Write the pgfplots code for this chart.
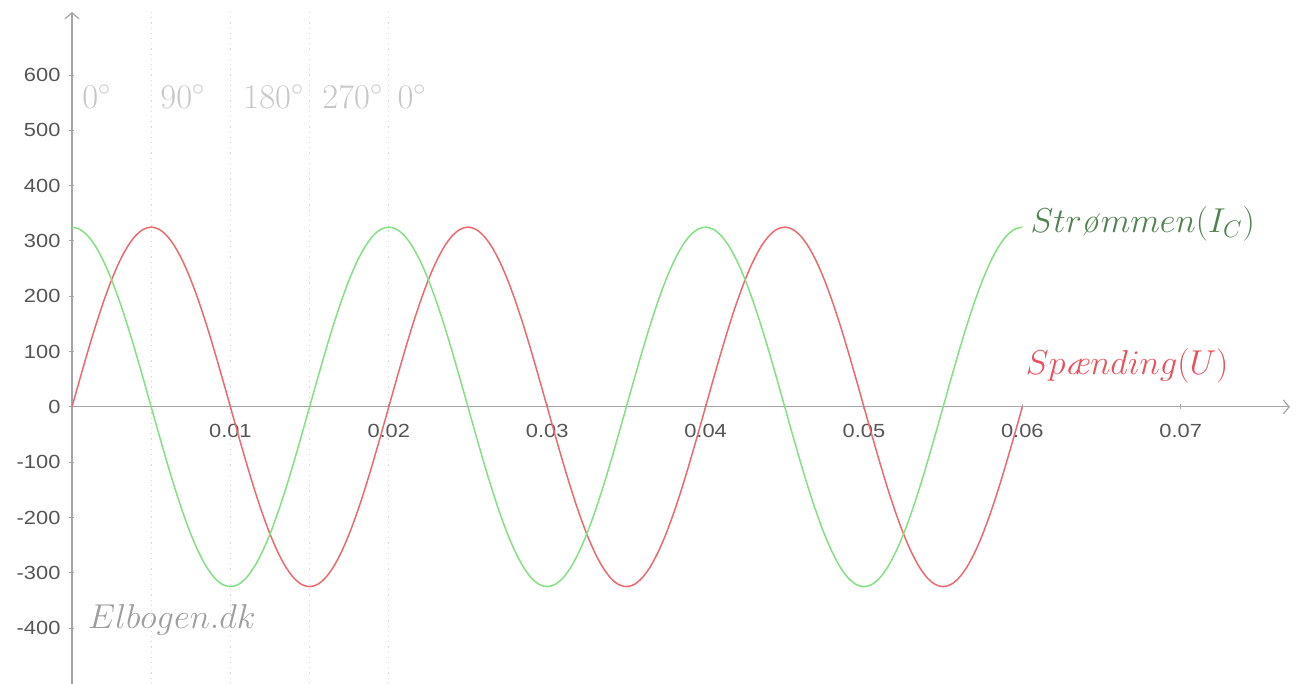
\documentclass[border=0pt]{standalone}
\usepackage{fontspec}
\usepackage{pgfplots}
\usepackage{pgfplotstable}
\pgfplotsset{compat=1.18}
\usetikzlibrary{arrows.meta}
\newfontfamily\tickfont[FakeStretch=1.15]{Liberation Sans}
\definecolor{uline}{RGB}{238,105,110}
\definecolor{iline}{RGB}{130,225,130}
\definecolor{ilabel}{RGB}{80,130,80}
\definecolor{ulabel}{RGB}{232,80,90}
\definecolor{axgray}{RGB}{165,165,165}
\definecolor{tickgray}{RGB}{85,85,85}
\definecolor{guide}{RGB}{215,215,215}

% t in s, U = voltage, I = current (cos), 9 degree steps
\pgfplotstableread{
t U I
0.0000 0 325.0
0.0005 50.8 321.0
0.0010 100.4 309.1
0.0015 147.6 289.6
0.0020 191.0 262.9
0.0025 229.8 229.8
0.0030 262.9 191.0
0.0035 289.6 147.6
0.0040 309.1 100.4
0.0045 321.0 50.8
0.0050 325.0 0
0.0055 321.0 -50.8
0.0060 309.1 -100.4
0.0065 289.6 -147.6
0.0070 262.9 -191.0
0.0075 229.8 -229.8
0.0080 191.0 -262.9
0.0085 147.6 -289.6
0.0090 100.4 -309.1
0.0095 50.8 -321.0
0.0100 0 -325.0
0.0105 -50.8 -321.0
0.0110 -100.4 -309.1
0.0115 -147.6 -289.6
0.0120 -191.0 -262.9
0.0125 -229.8 -229.8
0.0130 -262.9 -191.0
0.0135 -289.6 -147.6
0.0140 -309.1 -100.4
0.0145 -321.0 -50.8
0.0150 -325.0 0
0.0155 -321.0 50.8
0.0160 -309.1 100.4
0.0165 -289.6 147.6
0.0170 -262.9 191.0
0.0175 -229.8 229.8
0.0180 -191.0 262.9
0.0185 -147.6 289.6
0.0190 -100.4 309.1
0.0195 -50.8 321.0
0.0200 0 325.0
0.0205 50.8 321.0
0.0210 100.4 309.1
0.0215 147.6 289.6
0.0220 191.0 262.9
0.0225 229.8 229.8
0.0230 262.9 191.0
0.0235 289.6 147.6
0.0240 309.1 100.4
0.0245 321.0 50.8
0.0250 325.0 0
0.0255 321.0 -50.8
0.0260 309.1 -100.4
0.0265 289.6 -147.6
0.0270 262.9 -191.0
0.0275 229.8 -229.8
0.0280 191.0 -262.9
0.0285 147.6 -289.6
0.0290 100.4 -309.1
0.0295 50.8 -321.0
0.0300 0 -325.0
0.0305 -50.8 -321.0
0.0310 -100.4 -309.1
0.0315 -147.6 -289.6
0.0320 -191.0 -262.9
0.0325 -229.8 -229.8
0.0330 -262.9 -191.0
0.0335 -289.6 -147.6
0.0340 -309.1 -100.4
0.0345 -321.0 -50.8
0.0350 -325.0 0
0.0355 -321.0 50.8
0.0360 -309.1 100.4
0.0365 -289.6 147.6
0.0370 -262.9 191.0
0.0375 -229.8 229.8
0.0380 -191.0 262.9
0.0385 -147.6 289.6
0.0390 -100.4 309.1
0.0395 -50.8 321.0
0.0400 0 325.0
0.0405 50.8 321.0
0.0410 100.4 309.1
0.0415 147.6 289.6
0.0420 191.0 262.9
0.0425 229.8 229.8
0.0430 262.9 191.0
0.0435 289.6 147.6
0.0440 309.1 100.4
0.0445 321.0 50.8
0.0450 325.0 0
0.0455 321.0 -50.8
0.0460 309.1 -100.4
0.0465 289.6 -147.6
0.0470 262.9 -191.0
0.0475 229.8 -229.8
0.0480 191.0 -262.9
0.0485 147.6 -289.6
0.0490 100.4 -309.1
0.0495 50.8 -321.0
0.0500 0 -325.0
0.0505 -50.8 -321.0
0.0510 -100.4 -309.1
0.0515 -147.6 -289.6
0.0520 -191.0 -262.9
0.0525 -229.8 -229.8
0.0530 -262.9 -191.0
0.0535 -289.6 -147.6
0.0540 -309.1 -100.4
0.0545 -321.0 -50.8
0.0550 -325.0 0
0.0555 -321.0 50.8
0.0560 -309.1 100.4
0.0565 -289.6 147.6
0.0570 -262.9 191.0
0.0575 -229.8 229.8
0.0580 -191.0 262.9
0.0585 -147.6 289.6
0.0590 -100.4 309.1
0.0595 -50.8 321.0
0.0600 0 325.0
}\wavedata

\begin{document}
\begin{tikzpicture}
\path[use as bounding box] (0,0) rectangle (651pt,342pt);
\begin{axis}[
    at={(36pt,0pt)}, anchor=south west,
    scale only axis,
    width=609pt, height=336pt,
    xmin=0, xmax=0.0769,
    ymin=-501, ymax=714,
    axis lines=middle,
    axis line style={axgray, line width=0.6pt},
    x axis line style={-{Straight Barb[length=3pt,width=7pt]}},
    y axis line style={-{Straight Barb[length=3pt,width=7pt]}},
    xtick={0.01,0.02,0.03,0.04,0.05,0.06,0.07},
    ytick={-400,-300,-200,-100,0,100,200,300,400,500,600},
    hide obscured y ticks=false,
    scaled x ticks=false,
    xticklabel style={/pgf/number format/fixed, /pgf/number format/precision=2},
    ticklabel style={font=\tickfont\fontsize{9.5}{11}\selectfont, text=tickgray},
    /pgf/number format/assume math mode=true,
    xticklabel style={anchor=north, yshift=-4pt},
    yticklabel style={anchor=east, xshift=-1pt},
    major tick length=2.5pt,
    tick style={axgray, line width=0.5pt},
    clip=false,
]
% guide lines at 90 degree steps
\addplot[guide, dotted, line width=0.6pt] coordinates {(0.005,-501) (0.005,714)};
\addplot[guide, dotted, line width=0.6pt] coordinates {(0.010,-501) (0.010,714)};
\addplot[guide, dotted, line width=0.6pt] coordinates {(0.015,-501) (0.015,714)};
\addplot[guide, dotted, line width=0.6pt] coordinates {(0.020,-501) (0.020,714)};

\addplot[uline, line width=0.75pt, smooth, mark=none] table[x=t, y=U] {\wavedata};
\addplot[iline, line width=0.75pt, smooth, mark=none] table[x=t, y=I] {\wavedata};

\begin{scope}[every node/.style={font=\fontsize{17.5}{19}\selectfont, anchor=base west, inner sep=0pt, text=black!22}]
\node at (axis cs:0.00063,540) {$0^\circ$};
\node at (axis cs:0.00556,540) {$90^\circ$};
\node at (axis cs:0.01080,540) {$180^\circ$};
\node at (axis cs:0.01579,540) {$270^\circ$};
\node at (axis cs:0.02053,540) {$0^\circ$};
\end{scope}
\node[anchor=base west, inner sep=0pt, text=ilabel, font=\fontsize{17.5}{19}\selectfont]
    at (axis cs:0.0605,316) {$Str$\textit{ø}$mmen(I_C)$};
\node[anchor=base west, inner sep=0pt, text=ulabel, font=\fontsize{17.5}{19}\selectfont]
    at (axis cs:0.0602,58) {$Sp$\textit{æ}$nding(U)$};
\node[anchor=base west, inner sep=0pt, text=black!38, font=\fontsize{17.5}{19}\selectfont]
    at (axis cs:0.0010,-400) {$Elbogen.dk$};
\end{axis}
\end{tikzpicture}
\end{document}
